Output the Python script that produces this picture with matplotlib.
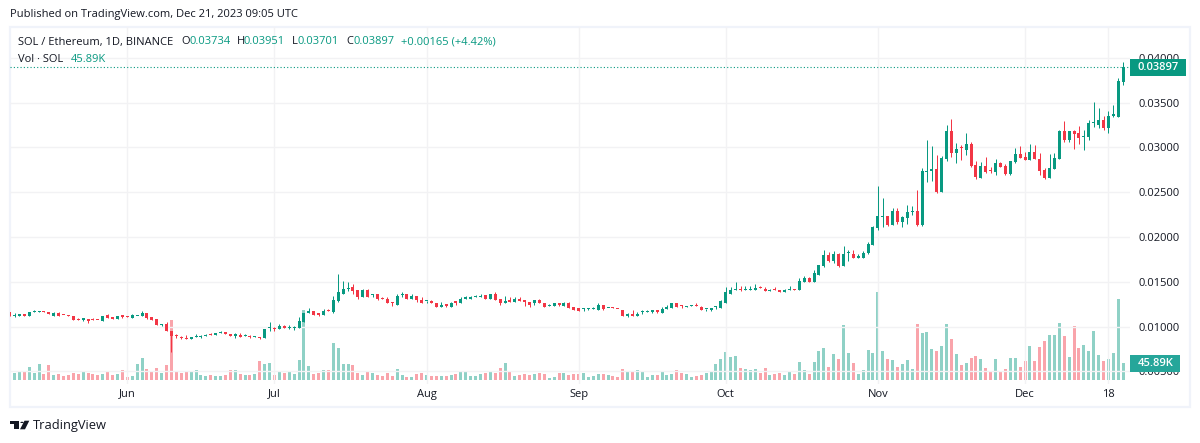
#!/usr/bin/env python

"""
SOL / Ethereum daily candles with volume, TradingView look
"""

import numpy as np
import pandas as pd
import matplotlib
matplotlib.use('Agg')
import matplotlib.pyplot as plt
import matplotlib.dates as mdates
from matplotlib.patches import Rectangle, Polygon, Circle

plt.rcParams['font.family'] = ['Open Sans', 'DejaVu Sans']

START = '2023-05-08'

# prices in exchange ticks (0.00001 ETH)
opens = [1164,1120,1116,1142,1123,1161,1161,1168,1161,1123,
    1157,1134,1131,1120,1090,1079,1086,1079,1079,1060,
    1127,1101,1082,1120,1116,1093,1116,1116,1157,1112,
    1090,1019,1034,955,907,888,874,858,881,888,
    892,914,903,926,937,922,892,907,892,899,
    884,884,870,985,981,970,1011,981,989,989,
    1056,1149,1179,1149,1134,1179,1168,1287,1369,1418,
    1437,1403,1336,1403,1351,1362,1313,1313,1269,1246,
    1351,1362,1313,1347,1302,1287,1291,1258,1224,1250,
    1224,1280,1258,1313,1313,1325,1325,1358,1313,1369,
    1313,1258,1287,1280,1313,1302,1280,1258,1302,1269,
    1228,1228,1258,1235,1269,1224,1205,1194,1194,1194,
    1190,1246,1205,1213,1202,1190,1123,1146,1123,1161,
    1161,1168,1179,1157,1202,1213,1258,1235,1217,1228,
    1235,1224,1194,1190,1217,1213,1269,1369,1403,1425,
    1403,1403,1414,1440,1425,1392,1418,1403,1381,1403,
    1414,1403,1493,1537,1493,1575,1677,1801,1733,1812,
    1677,1820,1812,1771,1767,1823,1914,2105,2222,2229,
    2139,2286,2164,2209,2280,2288,2130,2730,2741,2760,
    2501,2869,3187,2940,2996,2974,3041,2805,2659,2794,
    2749,2726,2828,2794,2700,2839,2929,2895,2861,2951,
    2872,2749,2659,2760,2872,3187,3086,3187,3165,3116,
    3120,3274,3255,3311,3221,3356,3345,3734]
highs = [1164,1149,1142,1142,1164,1190,1179,1179,1168,1168,
    1168,1134,1131,1120,1101,1086,1086,1101,1079,1123,
    1138,1101,1123,1120,1116,1138,1120,1179,1157,1112,
    1090,1030,1052,955,922,899,911,888,922,911,
    922,926,933,948,944,922,926,933,922,911,
    899,884,974,1056,993,1034,1023,1023,1011,1112,
    1157,1209,1179,1149,1202,1202,1347,1590,1504,1493,
    1478,1414,1418,1425,1369,1362,1332,1325,1280,1369,
    1381,1369,1362,1347,1325,1291,1302,1269,1280,1250,
    1280,1291,1336,1347,1347,1355,1369,1358,1369,1381,
    1313,1347,1325,1325,1325,1302,1280,1302,1313,1269,
    1250,1269,1258,1280,1280,1224,1213,1213,1213,1224,
    1269,1246,1213,1224,1202,1190,1157,1190,1168,1190,
    1190,1190,1179,1224,1246,1258,1258,1246,1235,1246,
    1258,1235,1202,1213,1235,1302,1437,1437,1493,1448,
    1448,1448,1481,1452,1437,1425,1437,1414,1425,1448,
    1425,1548,1560,1552,1627,1688,1857,1835,1846,1823,
    1902,1857,1857,1812,1846,1947,2128,2568,2432,2229,
    2320,2320,2231,2355,2344,2524,2771,3086,3019,2917,
    2906,3255,3322,3052,3030,3165,3064,2850,2839,2895,
    2783,2872,2839,2816,2850,2996,3019,2951,3041,3030,
    2940,2771,2929,2940,3199,3300,3187,3199,3244,3199,
    3311,3502,3435,3356,3412,3469,3772,3951]
lows = [1116,1112,1116,1116,1123,1161,1161,1161,1138,1123,
    1123,1127,1116,1079,1071,1067,1045,1071,1071,1060,
    1093,1082,1082,1101,1105,1093,1116,1116,1082,1079,
    1015,1004,948,720,877,858,866,858,881,877,
    892,907,903,926,918,892,877,881,892,870,
    884,866,870,952,952,970,981,978,967,989,
    1049,1149,1134,1116,1134,1172,1157,1280,1369,1392,
    1369,1313,1336,1336,1336,1302,1306,1258,1235,1246,
    1325,1313,1313,1280,1269,1258,1258,1224,1224,1217,
    1224,1246,1258,1313,1313,1325,1325,1313,1313,1302,
    1246,1258,1280,1280,1291,1235,1224,1246,1258,1224,
    1228,1228,1235,1235,1213,1190,1179,1179,1183,1194,
    1190,1190,1205,1205,1194,1116,1112,1123,1123,1146,
    1161,1157,1157,1157,1202,1213,1224,1213,1217,1228,
    1228,1190,1179,1179,1202,1213,1269,1369,1403,1392,
    1403,1403,1414,1433,1392,1392,1403,1381,1381,1403,
    1403,1403,1493,1493,1493,1575,1665,1722,1710,1665,
    1677,1733,1767,1771,1767,1812,1914,2083,2117,2128,
    2139,2150,2111,2141,2243,2119,2119,2614,2625,2490,
    2501,2850,2895,2828,2861,2917,2783,2647,2659,2715,
    2715,2692,2783,2692,2692,2828,2884,2861,2861,2872,
    2692,2647,2659,2760,2872,3056,3056,2985,3041,2974,
    3079,3232,3221,3199,3165,3334,3345,3701]
closes = [1116,1134,1142,1123,1164,1168,1168,1161,1138,1157,
    1123,1127,1123,1079,1071,1086,1067,1071,1071,1123,
    1093,1090,1123,1112,1105,1127,1120,1157,1101,1079,
    1015,1030,948,892,892,870,866,888,888,896,
    911,907,933,937,918,892,914,881,899,881,
    892,877,974,989,974,1008,981,989,996,1067,
    1157,1179,1134,1127,1179,1172,1302,1381,1425,1425,
    1392,1336,1403,1336,1358,1313,1306,1258,1261,1347,
    1358,1313,1347,1302,1269,1291,1258,1224,1246,1228,
    1269,1269,1313,1325,1336,1332,1347,1313,1369,1302,
    1258,1291,1280,1313,1291,1273,1246,1302,1258,1224,
    1239,1261,1246,1269,1213,1190,1179,1202,1202,1202,
    1246,1198,1213,1205,1194,1123,1146,1123,1146,1168,
    1168,1179,1168,1202,1224,1258,1224,1228,1224,1235,
    1228,1190,1202,1213,1224,1291,1381,1414,1425,1403,
    1418,1425,1425,1433,1392,1414,1403,1381,1414,1414,
    1403,1504,1537,1493,1593,1688,1801,1733,1812,1677,
    1812,1827,1767,1778,1823,1925,2117,2229,2229,2139,
    2286,2162,2220,2276,2288,2130,2737,2737,2760,2497,
    2884,3187,2940,2985,2989,3041,2794,2670,2794,2726,
    2741,2828,2783,2700,2850,2929,2884,2861,2951,2872,
    2741,2659,2771,2884,3187,3086,3187,3154,3109,3131,
    3277,3281,3311,3221,3356,3367,3739,3897]

# volume in thousands of SOL
volumes = [27.5,19.3,22,22,35.8,19.3,44.1,16.5,41.3,13.8,
    16.5,11,13.8,19.3,16.5,24.8,19.3,16.5,13.8,16.5,
    24.8,13.8,16.5,27.5,8.3,11,44.1,60.6,30.3,24.8,
    33,19.3,41.3,165.2,22,19.3,22,24.8,27.5,13.8,
    11,13.8,11,11,13.8,27.5,27.5,16.5,13.8,13.8,
    16.5,52.3,44.1,46.8,13.8,24.8,19.3,24.8,16.5,55.1,
    192.8,38.6,16.5,19.3,27.5,27.5,101.9,88.1,44.1,44.1,
    41.3,19.3,13.8,22,19.3,13.8,11,19.3,11,30.3,
    13.8,8.3,8.3,16.5,19.3,13.8,11,11,11,11,
    13.8,16.5,22,22,11,11,16.5,19.3,22,19.3,
    33,46.8,22,11,13.8,16.5,13.8,16.5,19.3,16.5,
    5.5,8.3,19.3,19.3,13.8,16.5,16.5,19.3,8.3,11,
    16.5,16.5,13.8,11,8.3,30.3,24.8,24.8,27.5,24.8,
    8.3,13.8,13.8,22,13.8,16.5,27.5,19.3,16.5,8.3,
    11,13.8,19.3,24.8,44.1,57.8,77.1,63.3,66.1,33,
    30.3,27.5,30.3,19.3,33,13.8,16.5,19.3,13.8,24.8,
    16.5,49.6,27.5,16.5,49.6,79.9,88.1,35.8,71.6,57.8,
    151.5,74.4,46.8,16.5,26.6,81.7,73.4,241.4,78.9,56.9,
    54.2,34.9,43.1,54.2,29.4,153.3,128.5,131.3,84.5,78.9,
    92.7,153.3,112,70.7,40.4,45.89,59.7,65.2,56.9,32.1,
    23.9,56.9,23.9,29.4,59.7,59.7,34.9,51.4,92.7,51.4,
    90,106.5,123,123,156.1,120.3,62.4,147.8,87.2,95.5,
    78.9,134,67.9,51.4,56.9,73.4,222.2,45.89]

price_ticks = [0.005, 0.01, 0.015, 0.02, 0.025, 0.03, 0.035, 0.04]
month_ticks = ['2023-06-01', '2023-07-01', '2023-08-01', '2023-09-01',
    '2023-10-01', '2023-11-01', '2023-12-01', '2023-12-18']
month_labels = ['Jun', 'Jul', 'Aug', 'Sep', 'Oct', 'Nov', 'Dec', '18']

GREEN = '#089981'
RED = '#F23645'
INK = '#131722'
GRID = '#F2F2F4'
FRAME = '#F0F3FA'
FS = 8.05
W, H = 1200.0, 443.0
# 3 px wide at 4.905 px per day, so every bar snaps to the same width
BAR_WIDTH = 0.6116
# thinnest body that still shows up, about 1 px
MIN_BODY = 0.00012


def fx(px):
    return px / W


def fy(py):
    return 1 - py / H


def put(fig, px, py, s, color=INK, size=FS, **kw):
    fig.text(fx(px), fy(py), s, color=color, fontsize=size, va='center', zorder=6, **kw)


def box(fig, x0, y0, x1, y1, **kw):
    fig.add_artist(Rectangle((fx(x0), fy(y1)), (x1 - x0) / W, (y1 - y0) / H,
        transform=fig.transFigure, **kw))


def main():
    o = np.array(opens) / 1e5
    h = np.array(highs) / 1e5
    l = np.array(lows) / 1e5
    c = np.array(closes) / 1e5
    v = np.array(volumes)
    x = mdates.date2num(pd.date_range(START, periods=len(o)))
    colors = [GREEN if b >= a else RED for a, b in zip(o, c)]

    fig = plt.figure(figsize=(12, 4.43), dpi=100, facecolor='white')
    rect = [fx(10), fy(384), (1130 - 10) / W, (384 - 27) / H]

    # volume sits behind the candles
    vax = fig.add_axes(rect)
    vax.bar(x, v, width=BAR_WIDTH, color=colors, alpha=0.45, linewidth=0)
    vax.set_ylim(-11, 972)
    vax.axis('off')

    ax = fig.add_axes(rect)
    ax.patch.set_visible(False)
    ax.set_zorder(vax.get_zorder() + 1)
    wicks = ax.vlines(x, l, h, colors=colors, linewidth=0.72)
    wicks.set_snap(True)
    ax.bar(x, np.maximum(np.abs(c - o), MIN_BODY), bottom=np.minimum(o, c), width=BAR_WIDTH,
        color=colors, linewidth=0)
    ax.axhline(c[-1], color=GREEN, linewidth=0.8, linestyle=(0, (1, 2)))

    ax.set_ylim(0.003594, 0.04344)
    xlim = (x[0] + 0.08, x[0] + 228.4)
    ax.set_xlim(xlim)
    vax.set_xlim(xlim)
    ax.yaxis.tick_right()
    ax.set_yticks(price_ticks)
    ax.set_yticklabels(['%.5f' % p for p in price_ticks])
    ax.set_xticks(mdates.date2num(pd.to_datetime(month_ticks)))
    ax.set_xticklabels(month_labels)
    ax.tick_params(axis='y', length=0, pad=5.8, labelsize=FS, labelcolor=INK)
    ax.tick_params(axis='x', length=0, pad=3.3, labelsize=FS, labelcolor=INK)
    ax.grid(True, color=GRID, linewidth=1.0)
    ax.set_axisbelow(True)
    for s in ax.spines.values():
        s.set_visible(False)

    # chart frame
    box(fig, 9.5, 26.5, 1190, 407, facecolor='none', edgecolor=FRAME, linewidth=1.6, zorder=1)

    # last value badges
    box(fig, 1130, 59, 1186, 75.7, facecolor=GREEN, edgecolor='none', zorder=2)
    box(fig, 1130, 355, 1180, 372.3, facecolor='#26A69A', edgecolor='none', zorder=2)
    put(fig, 1138, 67.3, '%.5f' % c[-1], color='white', fontweight='semibold')
    put(fig, 1138, 363.6, '%.2fK' % v[-1], color='white', fontweight='semibold')

    put(fig, 10, 15, 'Published on TradingView.com, Dec 21, 2023 09:05 UTC')

    # legend
    put(fig, 18, 42, 'SOL / Ethereum, 1D, BINANCE')
    for px, s, vx, val in [(181, 'O', 189, o[-1]), (237, 'H', 244, h[-1]),
            (292, 'L', 298, l[-1]), (346, 'C', 353, c[-1])]:
        put(fig, px, 42, s)
        put(fig, vx, 42, '%.5f' % val, color=GREEN)
    put(fig, 401, 42, '+0.00165 (+4.42%)', color=GREEN)
    put(fig, 18, 59, 'Vol \u00b7 SOL')
    put(fig, 71, 59, '45.89K', color=GREEN)

    # logo
    for pts in [[(10, 420.7), (19.3, 420.7), (19.3, 429.3), (14, 429.3), (14, 424), (10, 424)],
            [(24.5, 420.7), (29.3, 420.7), (25, 429.3), (20, 429.3)]]:
        fig.add_artist(Polygon([(fx(a), fy(b)) for a, b in pts], closed=True,
            transform=fig.transFigure, facecolor=INK, edgecolor='none'))
    fig.add_artist(Circle((fx(22), fy(422.4)), 1.7 / W, transform=fig.transFigure,
        facecolor=INK, edgecolor='none'))
    put(fig, 33, 425, 'TradingView', size=9.3)

    fig.savefig('out.png', dpi=100)


if __name__ == "__main__":
    main()
